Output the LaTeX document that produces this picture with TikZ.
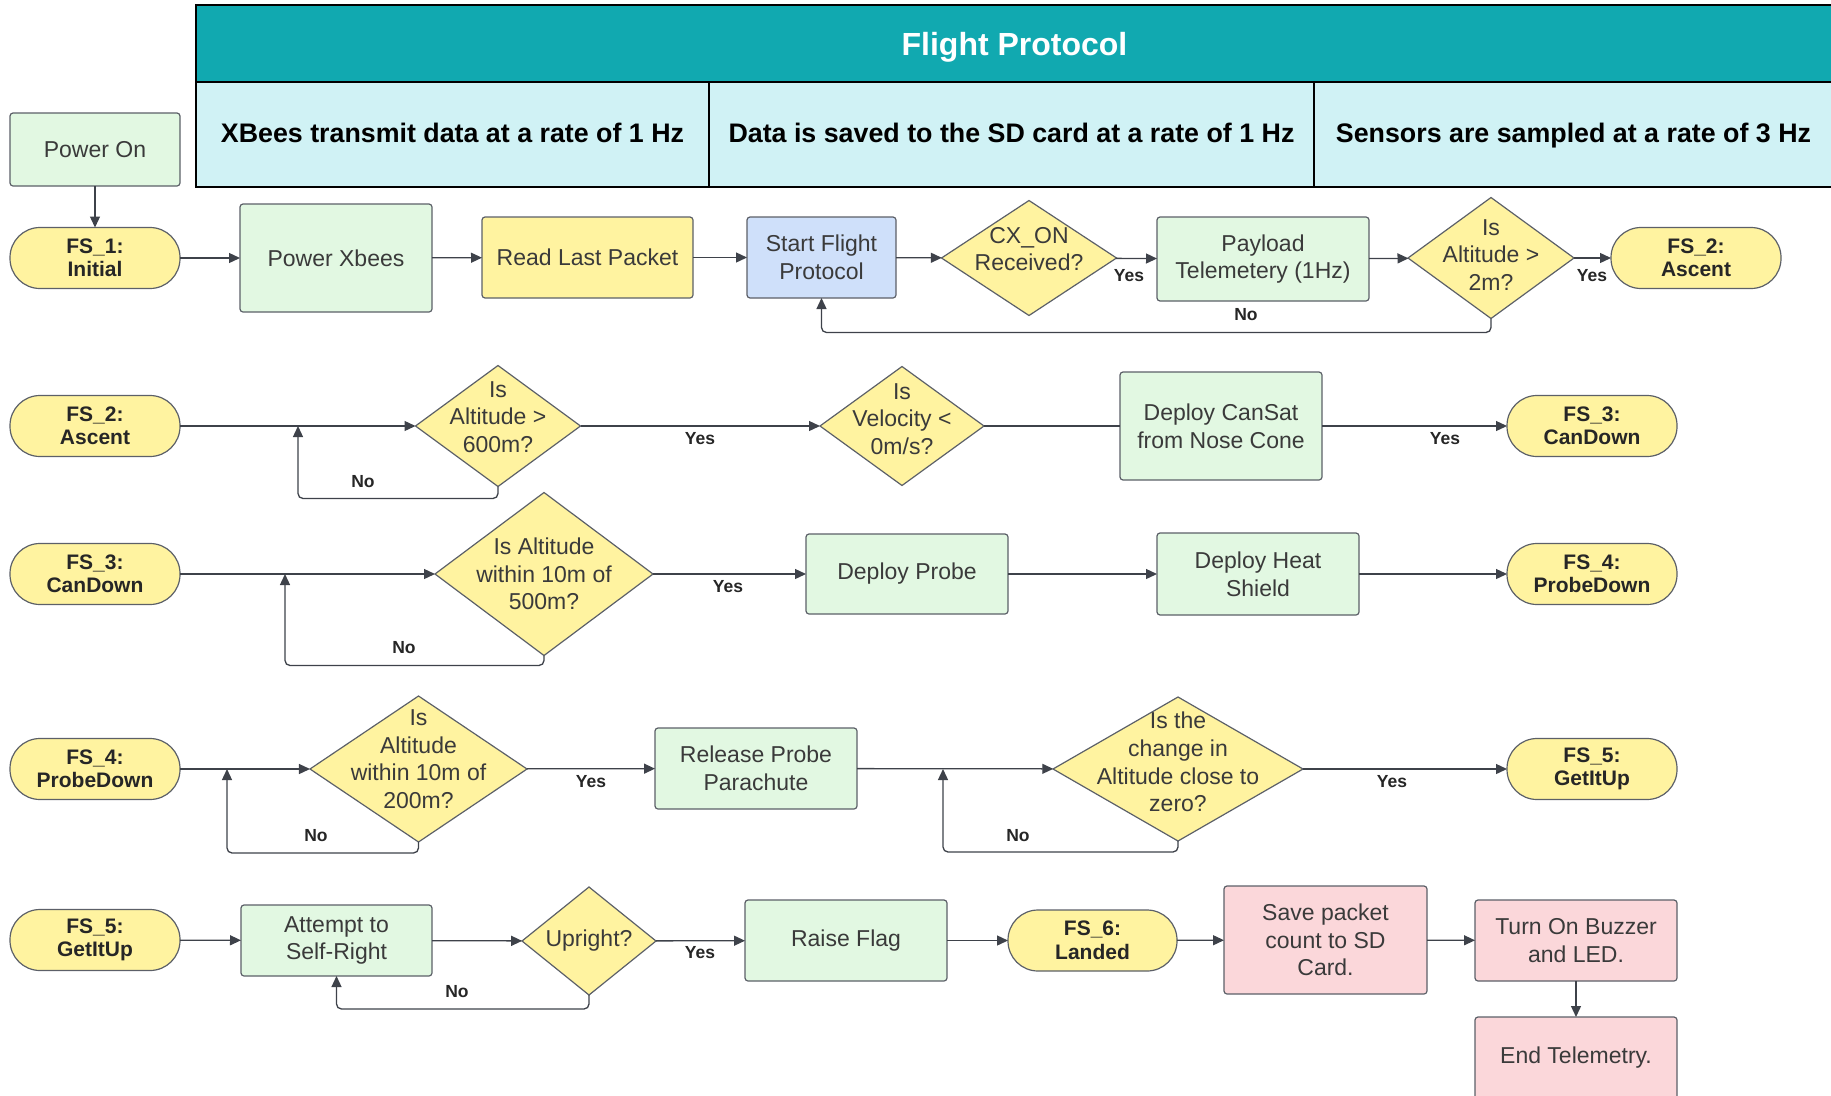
\documentclass[tikz,border=0pt]{standalone}
\usepackage{fontspec}
\setmainfont{Liberation Sans}
\usetikzlibrary{arrows.meta,shapes.geometric}
\definecolor{hdteal}{RGB}{17,169,176}
\definecolor{hdcyan}{RGB}{208,242,245}
\definecolor{boxgreen}{RGB}{226,248,226}
\definecolor{boxyellow}{RGB}{255,243,160}
\definecolor{boxblue}{RGB}{207,224,250}
\definecolor{boxred}{RGB}{251,215,218}
\definecolor{edgegray}{RGB}{92,96,104}
\definecolor{linegray}{RGB}{62,66,74}
\definecolor{txtgray}{RGB}{58,58,58}
\begin{document}
\begin{tikzpicture}[x=1pt,y=-1pt,>={Triangle[length=11pt,width=10pt]},
	every node/.style={inner sep=0pt,outer sep=0pt},
	box/.style={draw=edgegray,line width=1.2pt,rounded corners=3pt,fill=boxgreen,align=center,text=txtgray,font=\fontsize{23}{27.6}\selectfont},
	term/.style={box,fill=boxyellow,rounded corners=30pt,minimum width=170pt,minimum height=61pt,text=black!85,font=\bfseries\fontsize{21}{23.5}\selectfont},
	decision/.style={draw=edgegray,line width=1.2pt,diamond,fill=boxyellow},
	dtext/.style={align=center,text=txtgray,font=\fontsize{23}{27.6}\selectfont},
	lbl/.style={font=\bfseries\fontsize{17.5}{20}\selectfont,text=black!85},
	flow/.style={->,draw=linegray,line width=1.3pt},
	back/.style={flow,rounded corners=5pt},
	cell/.style={draw=black,line width=2.2pt,fill=hdcyan,anchor=north west,minimum height=105pt,text height=20pt,text depth=5pt,font=\bfseries\fontsize{26.8}{32}\selectfont}]
	\useasboundingbox (0,0) rectangle (1831,1095);
	\node[draw=black,line width=2.5pt,fill=hdteal,anchor=north west,minimum width=1637pt,minimum height=77pt,text depth=0pt,text=white,font=\bfseries\fontsize{32}{38}\selectfont] (title) at (196,5) {Flight Protocol};
	\node[cell,minimum width=513pt] (col1) at (196,82) {XBees transmit data at a rate of 1 Hz};
	\node[cell,minimum width=605pt] (col2) at (709,82) {Data is saved to the SD card at a rate of 1 Hz};
	\node[cell,minimum width=519pt] (col3) at (1314,82) {Sensors are sampled at a rate of 3 Hz};

	\node[box,minimum width=170pt,minimum height=73pt] (power) at (95,149.5) {Power On};
	\node[term] (fs1) at (95,258) {FS\_1:\\Initial};
	\node[box,minimum width=192pt,minimum height=108pt] (xbees) at (336,258) {Power Xbees};
	\node[box,fill=boxyellow,minimum width=211pt,minimum height=81pt] (readpkt) at (587.5,257.5) {Read Last Packet};
	\node[box,fill=boxblue,minimum width=149pt,minimum height=81pt] (startfp) at (821.5,257.5) {Start Flight\\Protocol};
	\node[decision,minimum width=175pt,minimum height=115pt,label={[dtext,yshift=9pt]center:{CX\_ON\\Received?}}] (cxon) at (1029,258) {};
	\node[box,minimum width=212pt,minimum height=84pt] (payload) at (1263,259) {Payload\\Telemetery (1Hz)};
	\node[decision,minimum width=166pt,minimum height=121pt,label={[dtext,yshift=3pt]center:{Is\\Altitude >\\2m?}}] (alt2) at (1491,258) {};
	\node[term] (fs2a) at (1696,258) {FS\_2:\\Ascent};
	\draw[flow] (power) -- (fs1);
	\draw[flow] (fs1) -- (xbees);
	\draw[flow] (xbees) -- (readpkt);
	\draw[flow] (readpkt) -- (startfp);
	\draw[flow] (startfp) -- (cxon);
	\draw[flow] (cxon) -- (payload);
	\draw[flow] (payload) -- (alt2);
	\draw[flow] (alt2) -- (fs2a);
	\draw[back] (alt2.south) -- ++(0,14) -| (startfp.south);
	\node[lbl] (yes1) at (1129,276) {Yes};
	\node[lbl] (yes2) at (1592,276) {Yes};
	\node[lbl] (no1) at (1246,315) {No};

	\node[term] (fs2b) at (95,426) {FS\_2:\\Ascent};
	\node[decision,minimum width=165pt,minimum height=121pt,label={[dtext,yshift=9pt]center:{Is\\Altitude >\\600m?}}] (d600) at (498,426) {};
	\node[decision,minimum width=164pt,minimum height=119pt,label={[dtext,yshift=7pt]center:{Is\\Velocity <\\0m/s?}}] (dvel) at (902,426) {};
	\node[box,minimum width=202pt,minimum height=108pt] (cansat) at (1221,426) {Deploy CanSat\\from Nose Cone};
	\node[term] (fs3a) at (1592,426) {FS\_3:\\CanDown};
	\coordinate (j1) at (298,426);
	\draw[flow] (fs2b) -- (d600);
	\draw[back] (d600.south) -- ++(0,12) -| (j1);
	\draw[flow] (d600) -- (dvel);
	\draw[draw=linegray,line width=1.3pt] (dvel) -- (cansat);
	\draw[flow] (cansat) -- (fs3a);
	\node[lbl] (no2) at (363,482) {No};
	\node[lbl] (yes3) at (700,439) {Yes};
	\node[lbl] (yes4) at (1445,439) {Yes};

	\node[term] (fs3b) at (95,574) {FS\_3:\\CanDown};
	\node[decision,minimum width=218pt,minimum height=163pt,label={[dtext]center:{Is Altitude\\within 10m of\\500m?}}] (d500) at (544,574) {};
	\node[box,minimum width=202pt,minimum height=80pt] (probe) at (907,574) {Deploy Probe};
	\node[box,minimum width=202pt,minimum height=82pt] (heat) at (1258,574) {Deploy Heat\\Shield};
	\node[term] (fs4a) at (1592,574) {FS\_4:\\ProbeDown};
	\coordinate (j2) at (285,574);
	\draw[flow] (fs3b) -- (d500);
	\draw[back] (d500.south) -- ++(0,10) -| (j2);
	\draw[flow] (d500) -- (probe);
	\draw[flow] (probe) -- (heat);
	\draw[flow] (heat) -- (fs4a);
	\node[lbl] (no3) at (404,648) {No};
	\node[lbl] (yes5) at (728,587) {Yes};

	\node[term] (fs4b) at (95,769) {FS\_4:\\ProbeDown};
	\node[decision,minimum width=217pt,minimum height=146pt,label={[dtext,yshift=10pt]center:{Is\\Altitude\\within 10m of\\200m?}}] (d200) at (418.5,769) {};
	\node[box,minimum width=202pt,minimum height=81pt] (para) at (756,768.5) {Release Probe\\Parachute};
	\node[decision,minimum width=250pt,minimum height=144pt,label={[dtext,yshift=7pt]center:{Is the\\change in\\Altitude close to\\zero?}}] (dzero) at (1178,769) {};
	\node[term] (fs5a) at (1592,769) {FS\_5:\\GetItUp};
	\coordinate (j3) at (227,769);
	\coordinate (j4) at (943,769);
	\draw[flow] (fs4b) -- (d200);
	\draw[back] (d200.south) -- ++(0,11) -| (j3);
	\draw[flow] (d200) -- (para);
	\draw[flow] (para) -- (dzero);
	\draw[back] (dzero.south) -- ++(0,11) -| (j4);
	\draw[flow] (dzero) -- (fs5a);
	\node[lbl] (no4) at (316,836) {No};
	\node[lbl] (yes6) at (591,782) {Yes};
	\node[lbl] (no5) at (1018,836) {No};
	\node[lbl] (yes7) at (1392,782) {Yes};

	\node[term] (fs5b) at (95,940) {FS\_5:\\GetItUp};
	\node[box,minimum width=191pt,minimum height=71pt] (selfr) at (336.5,940.5) {Attempt to\\Self-Right};
	\node[decision,minimum width=134pt,minimum height=108pt,label={[dtext]center:{Upright?}}] (upright) at (589,941) {};
	\node[box,minimum width=202pt,minimum height=81pt] (flag) at (846,940.5) {Raise Flag};
	\node[term,minimum width=169pt] (fs6) at (1092.5,940.5) {FS\_6:\\Landed};
	\node[box,fill=boxred,minimum width=203pt,minimum height=108pt] (savepkt) at (1325.5,940) {Save packet\\count to SD\\Card.};
	\node[box,fill=boxred,minimum width=202pt,minimum height=81pt] (buzzer) at (1576,940.5) {Turn On Buzzer\\and LED.};
	\node[box,fill=boxred,minimum width=202pt,minimum height=82pt] (endtel) at (1576,1058) {End Telemetry.};
	\draw[flow] (fs5b) -- (selfr);
	\draw[flow] (selfr) -- (upright);
	\draw[back] (upright.south) -- ++(0,14) -| (selfr.south);
	\draw[flow] (upright) -- (flag);
	\draw[flow] (flag) -- (fs6);
	\draw[flow] (fs6) -- (savepkt);
	\draw[flow] (savepkt) -- (buzzer);
	\draw[flow] (buzzer) -- (endtel);
	\node[lbl] (no6) at (457,992) {No};
	\node[lbl] (yes8) at (700,953) {Yes};
\end{tikzpicture}
\end{document}
